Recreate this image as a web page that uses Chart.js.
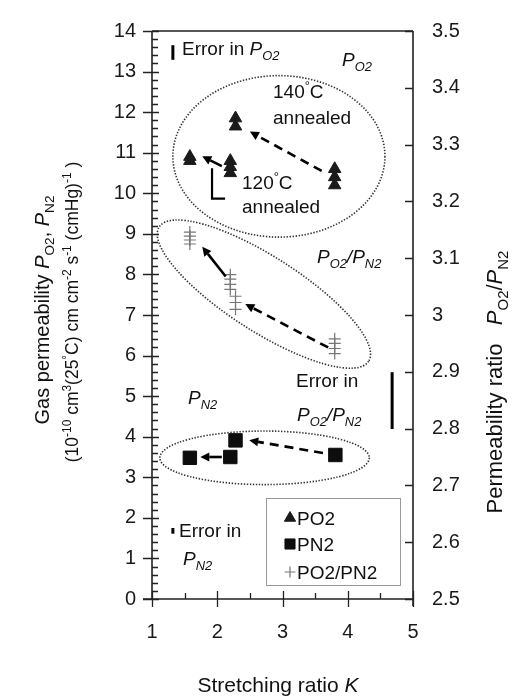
<!DOCTYPE html>
<html>
<head>
<meta charset="utf-8">
<script src="https://cdn.jsdelivr.net/npm/chart.js@4.4.1/dist/chart.umd.min.js"></script>
<style>
  html, body { margin: 0; padding: 0; background: #fff; }
</style>
</head>
<body>
<canvas id="chart" width="524" height="698"></canvas>
<script>
// stretching ratio K and gas permeability P_O2 (left axis)
const stretchO2 = [1.58, 1.58, 2.2, 2.2, 2.2, 2.28, 2.28, 3.8, 3.8, 3.8];
const permO2 = [10.8, 10.9, 10.5, 10.65, 10.8, 11.65, 11.85, 10.2, 10.4, 10.6];

// P_N2 (left axis)
const stretchN2 = [1.58, 2.2, 2.28, 3.81];
const permN2 = [3.48, 3.5, 3.91, 3.55];

// P_O2/P_N2 (right axis)
const stretchRatio = [1.58, 1.58, 1.58, 1.58, 2.2, 2.2, 2.2, 2.2, 2.28, 2.28, 2.28, 3.8, 3.8, 3.8, 3.8];
const ratioValues = [3.125, 3.132, 3.139, 3.146, 3.045, 3.054, 3.063, 3.071, 3.01, 3.022, 3.033, 2.932, 2.941, 2.95, 2.958];

const seriesNames = ['PO2', 'PN2', 'PO2/PN2'];

// arrows between samples, in data units of K and left axis
const arrows = [
  { from: [2.07, 10.67], to: [1.77, 10.91], dashed: false },
  { from: [3.6, 10.55], to: [2.5, 11.52], dashed: true },
  { from: [2.13, 7.95], to: [1.77, 8.68], dashed: false },
  { from: [3.7, 6.2], to: [2.43, 7.27], dashed: true },
  { from: [2.07, 3.5], to: [1.74, 3.5], dashed: false },
  { from: [3.62, 3.6], to: [2.49, 3.91], dashed: true }
];

// dotted ellipses: ends of the long axis, half of short axis (left axis units)
const ellipses = [
  { a: [1.32, 10.91], b: [4.57, 10.91], half: 1.99 },
  { a: [1.11, 9.17], b: [4.32, 5.86], half: 0.92 },
  { a: [1.12, 3.48], b: [4.33, 3.48], half: 0.66 }
];

// error indicators: K, left-axis centre, half height (left-axis units)
const errorBars = [
  { k: 1.32, y: 13.47, half: 0.18, w: 3 },
  { k: 1.32, y: 1.68, half: 0.07, w: 3 },
  { k: 4.68, y: 4.89, half: 0.7, w: 3 }
];

const bracket = [[1.92, 10.62], [1.92, 9.87], [2.12, 9.87]];

const FONT = '"Liberation Sans", Arial, sans-serif';

function toPoints(xs, ys) {
  return xs.map((x, i) => ({ x: x, y: ys[i] }));
}

// draws a run of text pieces: plain, italic, sub, sup
function rich(ctx, segs, x, y, size, align) {
  const fontFor = s => {
    const sz = (s.sub || s.sup) ? size * 0.68 : size;
    return (s.i ? 'italic ' : '') + sz.toFixed(1) + 'px ' + FONT;
  };
  let total = 0;
  segs.forEach(s => { ctx.font = fontFor(s); total += ctx.measureText(s.t).width; });
  let cx = align === 'center' ? x - total / 2 : (align === 'right' ? x - total : x);
  ctx.textAlign = 'left';
  ctx.textBaseline = 'alphabetic';
  segs.forEach(s => {
    ctx.font = fontFor(s);
    let dy = 0;
    if (s.sub) dy = size * 0.25;
    if (s.sup) dy = -size * 0.42;
    ctx.fillText(s.t, cx, y + dy);
    cx += ctx.measureText(s.t).width;
  });
}

const P = (sub) => [{ t: 'P', i: true }, { t: sub, i: true, sub: true }];

const decorPlugin = {
  id: 'decor',
  beforeDatasetsDraw(chart) {
    const { ctx, scales: { x, y } } = chart;
    const unitY = y.getPixelForValue(0) - y.getPixelForValue(1);
    ctx.save();
    ctx.strokeStyle = '#333';
    ctx.lineWidth = 1.6;
    ctx.setLineDash([1.4, 1.6]);
    ellipses.forEach(e => {
      const ax = x.getPixelForValue(e.a[0]), ay = y.getPixelForValue(e.a[1]);
      const bx = x.getPixelForValue(e.b[0]), by = y.getPixelForValue(e.b[1]);
      const cx = (ax + bx) / 2, cy = (ay + by) / 2;
      const r1 = Math.hypot(bx - ax, by - ay) / 2;
      ctx.beginPath();
      ctx.ellipse(cx, cy, r1, e.half * unitY, Math.atan2(by - ay, bx - ax), 0, Math.PI * 2);
      ctx.stroke();
    });
    ctx.restore();
  },
  afterDatasetsDraw(chart) {
    const { ctx, scales: { x, y, y2 }, chartArea: ca } = chart;
    const unitY = y.getPixelForValue(0) - y.getPixelForValue(1);
    ctx.save();

    // arrows
    arrows.forEach(a => {
      const x1 = x.getPixelForValue(a.from[0]), y1 = y.getPixelForValue(a.from[1]);
      const x2 = x.getPixelForValue(a.to[0]), y2p = y.getPixelForValue(a.to[1]);
      const ang = Math.atan2(y2p - y1, x2 - x1);
      const head = 9, hw = 4.5;
      const ex = x2 - Math.cos(ang) * head, ey = y2p - Math.sin(ang) * head;
      ctx.strokeStyle = '#000';
      ctx.fillStyle = '#000';
      ctx.lineWidth = 2.6;
      ctx.setLineDash(a.dashed ? [9, 6] : []);
      ctx.beginPath();
      ctx.moveTo(x1, y1);
      ctx.lineTo(ex, ey);
      ctx.stroke();
      ctx.setLineDash([]);
      ctx.beginPath();
      ctx.moveTo(x2, y2p);
      ctx.lineTo(ex - Math.sin(ang) * hw, ey + Math.cos(ang) * hw);
      ctx.lineTo(ex + Math.sin(ang) * hw, ey - Math.cos(ang) * hw);
      ctx.closePath();
      ctx.fill();
    });

    // bracket near the 120 C samples
    ctx.lineWidth = 2.2;
    ctx.beginPath();
    bracket.forEach((p, i) => {
      const px = x.getPixelForValue(p[0]), py = y.getPixelForValue(p[1]);
      if (i === 0) ctx.moveTo(px, py); else ctx.lineTo(px, py);
    });
    ctx.stroke();

    // error indicators
    errorBars.forEach(b => {
      const px = x.getPixelForValue(b.k), py = y.getPixelForValue(b.y);
      ctx.fillRect(px - b.w / 2, py - b.half * unitY, b.w, 2 * b.half * unitY);
    });

    // annotation text
    ctx.fillStyle = '#111';
    const fs = 19;
    rich(ctx, [{ t: 'Error in ' }].concat(P('O2')), 182, 55, fs, 'left');
    rich(ctx, P('O2'), 342, 66, fs, 'left');
    rich(ctx, [{ t: '140' }, { t: '°', sup: true }, { t: 'C' }], 273, 98, fs, 'left');
    rich(ctx, [{ t: 'annealed' }], 273, 124, fs, 'left');
    rich(ctx, [{ t: '120' }, { t: '°', sup: true }, { t: 'C' }], 242, 189, fs, 'left');
    rich(ctx, [{ t: 'annealed' }], 242, 213, fs, 'left');
    rich(ctx, P('O2').concat([{ t: '/', i: true }], P('N2')), 317, 263, fs, 'left');
    rich(ctx, [{ t: 'Error in' }], 296, 387, fs, 'left');
    rich(ctx, P('O2').concat([{ t: '/', i: true }], P('N2')), 297, 421, fs, 'left');
    rich(ctx, P('N2'), 188, 404, fs, 'left');
    rich(ctx, [{ t: 'Error in' }], 179, 537, fs, 'left');
    rich(ctx, P('N2'), 183, 565, fs, 'left');

    // legend box
    ctx.strokeStyle = '#999';
    ctx.lineWidth = 1;
    ctx.strokeRect(266.5, 498.5, 134, 87);
    const dsets = chart.data.datasets;
    const rows = [518, 544, 572];
    dsets.forEach((d, i) => {
      const opt = {
        pointStyle: d.pointStyle, radius: d.pointRadius * (i === 1 ? 0.75 : 0.9),
        rotation: 0, borderWidth: d.borderWidth
      };
      ctx.fillStyle = d.backgroundColor;
      ctx.strokeStyle = d.borderColor;
      ctx.lineWidth = d.borderWidth;
      Chart.helpers.drawPoint(ctx, opt, 290, rows[i]);
      ctx.fillStyle = '#111';
      rich(ctx, [{ t: d.label }], 297, rows[i] + 7, fs, 'left');
    });

    // frame and ticks
    ctx.strokeStyle = '#222';
    ctx.lineWidth = 1.6;
    ctx.beginPath();
    ctx.moveTo(ca.left, ca.top); ctx.lineTo(ca.right, ca.top);
    ctx.moveTo(ca.left, ca.top); ctx.lineTo(ca.left, ca.bottom);
    ctx.moveTo(ca.left - 9, ca.bottom); ctx.lineTo(ca.right, ca.bottom);
    ctx.moveTo(ca.right, ca.top); ctx.lineTo(ca.right, ca.bottom + 7);
    ctx.stroke();
    ctx.lineWidth = 1.3;
    ctx.beginPath();
    for (let v = 0; v <= 14.001; v += 0.2) {
      const py = Math.round(y.getPixelForValue(v)) + 0.5;
      const major = Math.abs(v - Math.round(v)) < 1e-6;
      ctx.moveTo(major ? ca.left - 9 : ca.left, py);
      ctx.lineTo(ca.left + (major ? 7 : 6), py);
    }
    for (let v = 1; v <= 5.001; v += 0.5) {
      const px = Math.round(x.getPixelForValue(v)) + 0.5;
      const major = Math.abs(v - Math.round(v)) < 1e-6;
      ctx.moveTo(px, major ? ca.bottom + 8 : ca.bottom);
      ctx.lineTo(px, ca.bottom - (major ? 8 : 6));
    }
    for (let v = 2.5; v <= 3.501; v += 0.1) {
      const py = Math.round(y2.getPixelForValue(v)) + 0.5;
      ctx.moveTo(ca.right - 8, py);
      ctx.lineTo(ca.right, py);
    }
    ctx.stroke();

    // axis titles
    ctx.fillStyle = '#111';
    ctx.save();
    ctx.translate(49, 310);
    ctx.rotate(-Math.PI / 2);
    rich(ctx, [{ t: 'Gas permeability ' }, { t: 'P', i: true }, { t: 'O2', sub: true },
      { t: ', ' }, { t: 'P', i: true }, { t: 'N2', sub: true }], 0, 0, 20, 'center');
    ctx.restore();
    ctx.save();
    ctx.translate(78, 312);
    ctx.rotate(-Math.PI / 2);
    rich(ctx, [{ t: '(10' }, { t: '-10', sup: true }, { t: ' cm' }, { t: '3', sup: true },
      { t: '(25' }, { t: '°', sup: true }, { t: 'C) cm cm' }, { t: '-2', sup: true },
      { t: ' s' }, { t: '-1', sup: true }, { t: ' (cmHg)' }, { t: '-1', sup: true }, { t: ' )' }],
      0, 0, 17.5, 'center');
    ctx.restore();
    ctx.save();
    ctx.translate(502, 382);
    ctx.rotate(-Math.PI / 2);
    rich(ctx, [{ t: 'Permeability ratio   ' }, { t: 'P', i: true }, { t: 'O2', sub: true },
      { t: '/' }, { t: 'P', i: true }, { t: 'N2', sub: true }], 0, 0, 22, 'center');
    ctx.restore();
    rich(ctx, [{ t: 'Stretching ratio ' }, { t: 'K', i: true }], 278, 692, 21, 'center');

    ctx.restore();
  }
};

const tickFont = { family: FONT, size: 20 };

new Chart(document.getElementById('chart'), {
  type: 'scatter',
  data: {
    datasets: [
      {
        label: seriesNames[0], data: toPoints(stretchO2, permO2), yAxisID: 'y',
        pointStyle: 'triangle', pointRadius: 7.2, backgroundColor: '#1a1a1a',
        borderColor: '#1a1a1a', borderWidth: 1
      },
      {
        label: seriesNames[1], data: toPoints(stretchN2, permN2), yAxisID: 'y',
        pointStyle: 'rect', pointRadius: 9.5, backgroundColor: '#0d0d0d',
        borderColor: '#0d0d0d', borderWidth: 1
      },
      {
        label: seriesNames[2], data: toPoints(stretchRatio, ratioValues), yAxisID: 'y2',
        pointStyle: 'cross', pointRadius: 6, backgroundColor: '#777',
        borderColor: '#777', borderWidth: 1.2
      }
    ]
  },
  options: {
    responsive: false,
    animation: false,
    devicePixelRatio: 1,
    layout: { padding: { top: 23, left: 0, right: 0, bottom: 0 } },
    plugins: { legend: { display: false }, tooltip: { enabled: false } },
    scales: {
      x: {
        type: 'linear', min: 1, max: 5,
        grid: { display: false, drawTicks: false }, border: { display: false },
        ticks: { stepSize: 1, font: tickFont, color: '#1a1a1a', padding: 21, maxRotation: 0 },
        afterFit: s => { s.height = 99; }
      },
      y: {
        type: 'linear', position: 'left', min: 0, max: 14,
        grid: { display: false, drawTicks: false }, border: { display: false },
        ticks: { stepSize: 1, font: tickFont, color: '#1a1a1a', padding: 16 },
        afterFit: s => { s.width = 152; }
      },
      y2: {
        type: 'linear', position: 'right', min: 2.5, max: 3.5,
        grid: { display: false, drawTicks: false }, border: { display: false },
        ticks: {
          stepSize: 0.1, font: tickFont, color: '#1a1a1a', padding: 19,
          callback: v => String(+v.toFixed(1))
        },
        afterFit: s => { s.width = 111; }
      }
    }
  },
  plugins: [decorPlugin]
});
</script>
</body>
</html>
